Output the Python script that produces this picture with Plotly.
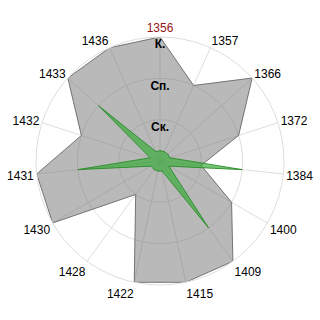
import plotly.graph_objects as go

categories = ["1356", "1357", "1366", "1372", "1384", "1400", "1409", "1415",
              "1422", "1428", "1430", "1431", "1432", "1433", "1436"]
gray_values = [3, 2, 3, 2, 1, 2, 3, 3, 3, 1, 3, 3, 2, 3, 3]
green_values = [0.25, 0.25, 0.25, 0.25, 2, 0.25, 2, 0.25,
                0.25, 0.25, 0.25, 2, 0.25, 2, 0.25]
radial_tickvals = [1, 2, 3]
radial_ticktext = ["Ск.", "Сп.", "К."]
highlight = "1356"

def closed(vals):
    return list(vals) + [vals[0]]

fig = go.Figure()
fig.add_trace(go.Scatterpolar(
    r=closed(gray_values), theta=closed(categories), mode="lines",
    fill="toself", fillcolor="rgba(120,120,120,0.52)",
    line=dict(color="rgb(115,115,115)", width=1), hoverinfo="skip"))
fig.add_trace(go.Scatterpolar(
    r=closed(green_values), theta=closed(categories), mode="lines",
    fill="toself", fillcolor="rgba(40,170,40,0.6)",
    line=dict(color="rgba(40,140,40,0.9)", width=1), hoverinfo="skip"))
fig.add_trace(go.Scatterpolar(
    r=[v - 0.2 for v in radial_tickvals], theta=[categories[0]] * 3,
    mode="text", text=radial_ticktext,
    textfont=dict(family="Liberation Sans", size=12, color="black", weight="bold"),
    hoverinfo="skip"))

ticktext = [f'<span style="color:#951515">{c}</span>' if c == highlight else c
            for c in categories]

fig.update_layout(
    width=320, height=320, margin=dict(l=0, r=0, t=0, b=0),
    paper_bgcolor="white", showlegend=False,
    font=dict(family="Liberation Sans", size=12, color="black"),
    polar=dict(
        domain=dict(x=[36/320, 284/320], y=[1-285/320, 1-37/320]),
        bgcolor="white",
        radialaxis=dict(range=[0, 3], tickvals=radial_tickvals, showticklabels=False,
                        showline=False, ticks="", gridcolor="rgb(222,222,222)",
                        gridwidth=1, angle=90),
        angularaxis=dict(type="category", categoryarray=categories,
                         tickvals=categories, ticktext=ticktext,
                         direction="clockwise", rotation=90,
                         showline=True, linecolor="rgb(222,222,222)", linewidth=1,
                         gridcolor="rgb(222,222,222)", ticks="",
                         tickfont=dict(family="Liberation Sans", size=12, color="black")),
        gridshape="circular",
    ),
)
fig.write_html("out.html")
